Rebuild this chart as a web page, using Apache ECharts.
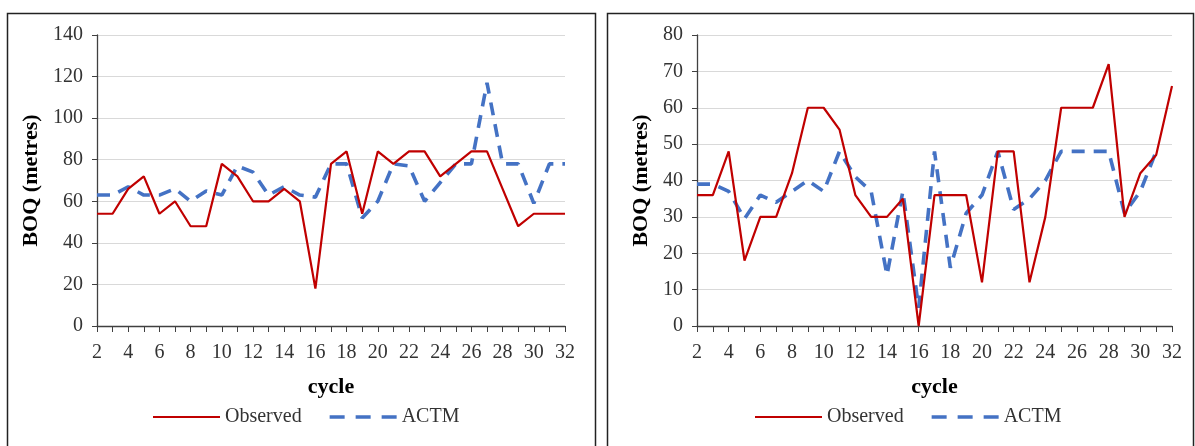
<!DOCTYPE html>
<html>
<head>
<meta charset="utf-8">
<script src="https://cdn.jsdelivr.net/npm/echarts@6/dist/echarts.min.js"></script>
<style>
html,body{margin:0;padding:0;background:#fff;}
#chart{width:1195px;height:446px;}
</style>
</head>
<body>
<div id="chart"></div>
<script>
const cycles = ['2','3','4','5','6','7','8','9','10','11','12','13','14','15','16','17','18','19','20','21','22','23','24','25','26','27','28','29','30','31','32'];

const leftObserved = [54,54,66,72,54,60,48,48,78,72,60,60,66,60,18,78,84,54,84,78,84,84,72,78,84,84,66,48,54,54,54];
const leftACTM     = [63,63,67,63,63,66,60,65,63,77,74,63,67,63,62,78,78,52,60,78,77,60,69,78,78,117,78,78,59,78,78];

const rightObserved = [36,36,48,18,30,30,42,60,60,54,36,30,30,35,0,36,36,36,12,48,48,12,30,60,60,60,72,30,42,47,66];
const rightACTM     = [39,39,37,29.5,36,34,37,40,37,48,41,37,14,37,5,48,16,31,36,48,32,35,40,48,48,48,48,31,37,48,null];

const leftYTicks = {min:0, max:140, interval:20};
const rightYTicks = {min:0, max:80, interval:10};

const FONT = "'Liberation Serif','Times New Roman',serif";
const RED = '#C00000';
const BLUE = '#4472C4';
const TXT = '#333333';
const ICON_SOLID = 'path://M0,0H67V2.2H0Z';
const ICON_DASH = 'path://M0,0H15V3.6H0Z M26,0H41V3.6H26Z M52,0H67V3.6H52Z';

function xAxis(gridIndex){
  return {
    type:'category', gridIndex, data:cycles, boundaryGap:false,
    name:'cycle', nameLocation:'middle', nameGap:50,
    nameTextStyle:{fontFamily:FONT,fontSize:22,fontWeight:'bold',color:'#000'},
    axisLine:{lineStyle:{color:'#404040',width:1.3}},
    axisTick:{show:true,interval:0,length:6,lineStyle:{color:'#404040'}},
    axisLabel:{interval:1,margin:17,fontFamily:FONT,fontSize:20,color:TXT},
    splitLine:{show:false}
  };
}
function yAxis(gridIndex, t, gap){
  return {
    type:'value', gridIndex, min:t.min, max:t.max, interval:t.interval,
    name:'BOQ (metres)', nameLocation:'middle', nameGap:gap, nameRotate:90,
    nameTextStyle:{fontFamily:FONT,fontSize:22,fontWeight:'bold',color:'#000'},
    axisLine:{show:true,lineStyle:{color:'#404040',width:1.3}},
    axisTick:{show:true,length:5,lineStyle:{color:'#404040'}},
    axisLabel:{margin:14,fontFamily:FONT,fontSize:20,color:TXT},
    splitLine:{show:true,lineStyle:{color:'#d9d9d9',width:1.2}}
  };
}
function obs(i, data){
  return {name:'Observed', type:'line', xAxisIndex:i, yAxisIndex:i, data,
    symbol:'none', showSymbol:false, lineStyle:{color:RED,width:2.2}, itemStyle:{color:RED}, z:3};
}
function actm(i, data){
  return {name:'ACTM', type:'line', xAxisIndex:i, yAxisIndex:i, data,
    symbol:'none', showSymbol:false, connectNulls:false,
    lineStyle:{color:BLUE,width:3.6,type:[13,9]}, itemStyle:{color:BLUE}, z:2};
}
function legend(left){
  return {left, top:402, itemWidth:67, itemHeight:14, itemGap:28, symbolKeepAspect:true,
    data:[{name:'Observed',icon:ICON_SOLID},{name:'ACTM',icon:ICON_DASH}],
    textStyle:{fontFamily:FONT,fontSize:20,color:TXT},
    selectedMode:false};
}

const chart = echarts.init(document.getElementById('chart'), null, {renderer:'canvas'});
chart.setOption({
  animation:false,
  backgroundColor:'#fff',
  grid:[
    {left:97, top:35, width:468, height:291},
    {left:697, top:35, width:475, height:291}
  ],
  xAxis:[xAxis(0), xAxis(1)],
  yAxis:[yAxis(0,leftYTicks,55), yAxis(1,rightYTicks,45)],
  legend:[legend(148), legend(750)],
  series:[obs(0,leftObserved), actm(0,leftACTM), obs(1,rightObserved), actm(1,rightACTM)],
  graphic:[
    {type:'rect', shape:{x:7.5,y:13.5,width:588,height:450}, style:{fill:'none',stroke:'#222',lineWidth:1.5}, silent:true},
    {type:'rect', shape:{x:607.5,y:13.5,width:586,height:450}, style:{fill:'none',stroke:'#222',lineWidth:1.5}, silent:true}
  ]
});
</script>
</body>
</html>
